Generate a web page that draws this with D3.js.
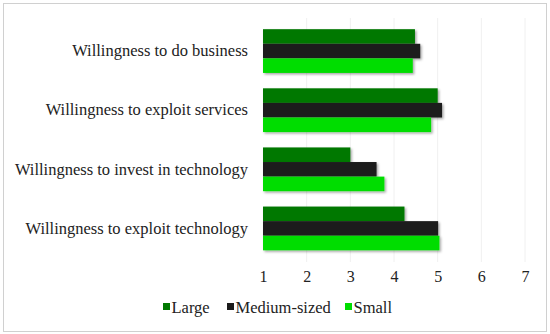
<!DOCTYPE html>
<html>
<head>
<meta charset="utf-8">
<script src="https://cdn.jsdelivr.net/npm/d3@7"></script>
<style>
body { margin: 0; background: #fff; }
</style>
</head>
<body>
<svg id="chart" width="550" height="334" font-family="Liberation Serif"></svg>
<script>
var categories = ['Willingness to do business', 'Willingness to exploit services',
    'Willingness to invest in technology', 'Willingness to exploit technology'];
var seriesNames = ['Large', 'Medium-sized', 'Small'];
var large = [4.48, 5.0, 3.0, 4.24];
var medium = [4.6, 5.1, 3.6, 5.01];
var small = [4.43, 4.85, 3.78, 5.04];
var xTicks = [1, 2, 3, 4, 5, 6, 7];
var colors = ['#007800', '#1b1b1b', '#00dd00'];
var serif = 'Liberation Serif';

var svg = d3.select('#chart');

svg.append('rect')
    .attr('x', 3.5).attr('y', 3.5)
    .attr('width', 543).attr('height', 328)
    .attr('fill', 'none').attr('stroke', '#d0d0d0');

var defs = svg.append('defs');
var f = defs.append('filter').attr('id', 'shadow')
    .attr('x', '-5%').attr('y', '-20%').attr('width', '115%').attr('height', '160%');
f.append('feDropShadow').attr('dx', 1.5).attr('dy', 1.5).attr('stdDeviation', 1.2)
    .attr('flood-color', '#000').attr('flood-opacity', 0.35);

var x = d3.scaleLinear().domain([1, 7]).range([263, 525]);
var y = d3.scaleBand().domain(categories).range([21.5, 258]).paddingInner(0.26).paddingOuter(0.13);
var sub = d3.scaleBand().domain(seriesNames).range([0, y.bandwidth()]);

// gridlines
svg.append('g')
    .selectAll('line')
    .data(xTicks.slice(1))
    .join('line')
    .attr('x1', (d) => x(d)).attr('x2', (d) => x(d))
    .attr('y1', 18).attr('y2', 262)
    .attr('stroke', '#f0f0f0');

var data = [large, medium, small];

var bars = svg.append('g');
data.forEach((vals, i) => {
    bars.append('g')
        .attr('filter', 'url(#shadow)')
        .selectAll('rect')
        .data(vals)
        .join('rect')
        .attr('x', x(1))
        .attr('y', (d, j) => y(categories[j]) + sub(seriesNames[i]))
        .attr('width', (d) => x(d) - x(1))
        .attr('height', sub.bandwidth())
        .attr('fill', colors[i]);
});

// category labels
var yAxis = svg.append('g')
    .attr('transform', 'translate(' + x(1) + ',0)')
    .call(d3.axisLeft(y).tickSize(0).tickPadding(15))
    .attr('font-family', serif)
    .attr('font-size', 16.5);
yAxis.select('.domain').remove();
yAxis.selectAll('text').attr('fill', '#222');

// x axis
var xAxis = svg.append('g')
    .attr('transform', 'translate(0,262)')
    .call(d3.axisBottom(x).tickValues(xTicks).tickSize(0).tickPadding(9).tickFormat(d3.format('d')))
    .attr('font-family', serif)
    .attr('font-size', 16);
xAxis.select('.domain').remove();
xAxis.selectAll('text').attr('fill', '#222');

// legend
var legendX = [163, 227, 345];
var legend = svg.append('g').attr('font-family', serif).attr('font-size', 16.5);
seriesNames.forEach((name, i) => {
    var g = legend.append('g').attr('transform', 'translate(' + legendX[i] + ',307)');
    g.append('rect').attr('x', 0).attr('y', -4).attr('width', 7).attr('height', 7).attr('fill', colors[i]);
    g.append('text').attr('x', 8.5).attr('y', 0).attr('dy', '0.35em')
        .attr('fill', '#222').text(name);
});
</script>
</body>
</html>
